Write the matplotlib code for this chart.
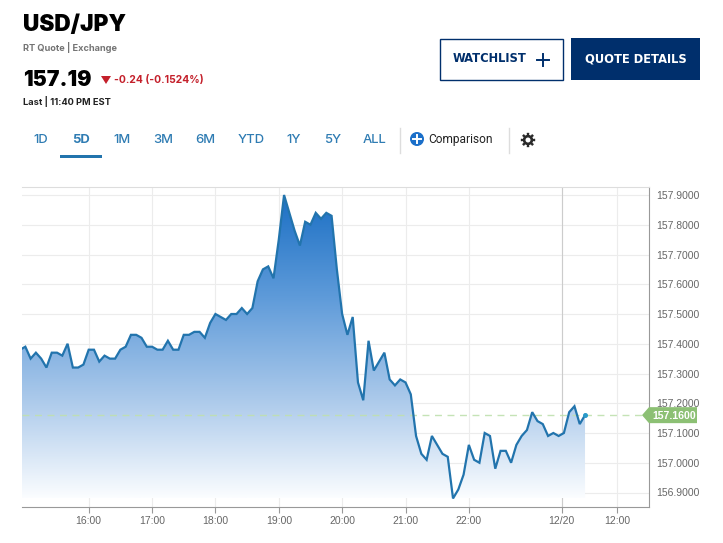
import numpy as np
import matplotlib
matplotlib.use("Agg")
import matplotlib.pyplot as plt
from matplotlib.patches import Rectangle, Polygon, Circle
from matplotlib.colors import LinearSegmentedColormap

W, H = 723, 543
plt.rcParams['font.family'] = ['Inter', 'DejaVu Sans']

positions = list(range(-13, 95))
rates = [157.38,157.39,157.35,157.37,157.35,157.32,157.37,157.37,157.36,157.40,157.32,157.32,157.33,
         157.38,157.38,157.34,157.36,157.35,157.35,157.38,157.39,157.43,157.43,157.42,157.39,
         157.39,157.38,157.38,157.41,157.38,157.38,157.43,157.43,157.44,157.44,157.42,157.47,
         157.50,157.49,157.48,157.50,157.50,157.52,157.50,157.52,157.61,157.65,157.66,157.62,
         157.75,157.90,157.84,157.78,157.73,157.81,157.80,157.84,157.82,157.84,157.83,157.65,
         157.50,157.43,157.49,157.27,157.21,157.41,157.31,157.34,157.37,157.28,157.26,157.28,
         157.27,157.23,157.09,157.03,157.01,157.09,157.06,157.03,157.02,156.88,156.91,156.96,
         157.06,157.01,157.00,157.10,157.09,156.98,157.04,157.04,157.00,157.06,157.09,157.11,
         157.17,157.14,157.13,157.09,157.10,157.09,157.10,157.17,157.19,157.13,157.16]
x_tick_pos = [0, 12, 24, 36, 48, 60, 72, 89.6, 100.1]
x_tick_labels = ['16:00','17:00','18:00','19:00','20:00','21:00','22:00','12/20','12:00']
y_ticks = [156.9,157.0,157.1,157.2,157.3,157.4,157.5,157.6,157.7,157.8,157.9]
tabs = ['1D','5D','1M','3M','6M','YTD','1Y','5Y','ALL']
tab_x = [41,81,122,163,205,251,294,333,375]
last_rate = 157.16

fig = plt.figure(figsize=(W/100, H/100), dpi=100, facecolor='white')
L, R, T, B = 22, 649, 187, 507
ax = fig.add_axes([L/W, 1-B/H, (R-L)/W, (B-T)/H])
px_per_k = 5.28
ax.set_xlim((L-88.7)/px_per_k, (R-88.7)/px_per_k)
ax.set_ylim(156.9-(B-492.5)/297.5, 157.9+(195-T)/297.5)

ax.set_xticks(x_tick_pos, x_tick_labels)
ax.set_yticks(y_ticks, [f'{v:.4f}' for v in y_ticks])
ax.yaxis.tick_right()
ax.grid(True, color='#ececec', lw=0.8)
ax.set_axisbelow(True)
ax.tick_params(axis='x', length=4, width=0.8, color='#999999', labelcolor='#666666', pad=2.5)
ax.tick_params(axis='y', length=0, labelcolor='#666666', pad=5)
for lab in ax.get_xticklabels() + ax.get_yticklabels():
    lab.set_family(['Liberation Sans', 'DejaVu Sans'])
    lab.set_fontsize(7.5)
ax.spines['left'].set_visible(False)
ax.spines['top'].set_color('#dddddd')
ax.spines['right'].set_color('#999999')
ax.spines['bottom'].set_color('#999999')
for s in ax.spines.values():
    s.set_linewidth(0.8)
ax.axvline(x_tick_pos[7], color='#cccccc', lw=0.8)

cmap = LinearSegmentedColormap.from_list('f', ['#fbfdff', '#a9c8ea', '#5d9ad9', '#1b6fc4'])
ymin, ymax = ax.get_ylim()
poly = ax.fill_between(positions, rates, ymin, color='none', lw=0)
top = max(rates)
im = ax.imshow(np.linspace(1, 0, 256).reshape(-1, 1), aspect='auto', cmap=cmap,
               extent=[positions[0], positions[-1], ymin + 0.03, top], zorder=2,
               interpolation='bilinear')
im.set_clip_path(poly.get_paths()[0], transform=ax.transData)
ax.set_xlim((L-88.7)/px_per_k, (R-88.7)/px_per_k)
ax.set_ylim(ymin, ymax)

ax.plot(ax.get_xlim(), [last_rate, last_rate], color='#bfe0ae', lw=1.0,
        dashes=(5, 4), zorder=2.5, alpha=0.9)
ax.plot(positions, rates, color='#2274ad', lw=1.6, zorder=3, solid_joinstyle='miter')
ax.plot(positions[-1], last_rate, 'o', color='#2a9ac9', ms=2.6, zorder=4)

# overlay in pixel coordinates for the page furniture
ui = fig.add_axes([0, 0, 1, 1], zorder=5)
ui.set_xlim(0, W); ui.set_ylim(H, 0); ui.axis('off'); ui.patch.set_alpha(0)

# price flag follows the last value
fy = H - ax.transData.transform((0, last_rate))[1]
ui.add_patch(Polygon([(642, fy), (649, fy-8), (697, fy-8), (697, fy+8), (649, fy+8)],
                     closed=True, fc='#8cc074', ec='none'))
ui.text(674, fy+0.8, f'{last_rate:.4f}', color='white', ha='center', va='center', fontsize=7.6,
        fontweight='bold', family=['Liberation Sans'])

NAVY = '#002f6c'
ui.text(23, 24.5, 'USD/JPY', fontsize=16.3, fontweight='black', color='black', va='center')
ui.text(23, 47.5, 'RT Quote | Exchange', fontsize=6.6, fontweight='bold', color='#747474', va='center')
ui.text(23, 80, '157.19', fontsize=15.3, fontweight='black', color='black', va='center')
ui.add_patch(Polygon([(101, 76), (111, 76), (106, 84)], closed=True, fc='#c4202b', ec='none'))
ui.text(114, 80.5, '-0.24 (-0.1524%)', fontsize=7.45, fontweight='bold', color='#c4202b', va='center')
ui.text(23, 101.5, 'Last | 11:40 PM EST', fontsize=6.7, fontweight='bold', color='#222222', va='center')

ui.add_patch(Rectangle((439.5, 38.5), 123, 41, fc='white', ec=NAVY, lw=1))
ui.text(489.5, 59, 'WATCHLIST', fontsize=8.3, fontweight='bold', color=NAVY, ha='center', va='center',
        family=['DejaVu Sans'])
ui.plot([537, 549], [59.5, 59.5], color=NAVY, lw=1.4)
ui.plot([543, 543], [53.5, 65.5], color=NAVY, lw=1.4)
ui.add_patch(Rectangle((571, 38), 129, 42, fc=NAVY, ec='none'))
ui.text(636, 59, 'QUOTE DETAILS', fontsize=8.3, fontweight='bold', color='white', ha='center', va='center',
        family=['DejaVu Sans'])

for name, x in zip(tabs, tab_x):
    sel = name == '5D'
    ui.text(x, 140, name, fontsize=9.4, color='#2f7cb3', ha='center', va='center',
            fontweight='bold' if sel else 'medium')
ui.add_patch(Rectangle((60, 155), 42, 3, fc='#2274ad', ec='none'))
for x in (399.5, 508.5):
    ui.plot([x, x], [128, 153], color='#dddddd', lw=1)
ui.add_patch(Circle((417, 139), 7, fc='#1b6fc9', ec='none'))
ui.plot([413, 421], [139, 139], color='white', lw=1.4)
ui.plot([417, 417], [135, 143], color='white', lw=1.4)
ui.text(428, 139, 'Comparison', fontsize=8.6, color='#222222', va='center',
        family=['Roboto', 'DejaVu Sans'])

# filled gear icon
gx, gy = 528, 140
ang = np.linspace(0, 2*np.pi, 241)[:-1]
rad = 5.2 + 2.0*(np.cos(8*ang) > 0)
ui.add_patch(Polygon(np.c_[gx + rad*np.cos(ang), gy + rad*np.sin(ang)], closed=True, fc='#2a2a2a', ec='none'))
ui.add_patch(Circle((gx, gy), 2.5, fc='white', ec='none'))

fig.savefig('out.png', dpi=100, facecolor='white')
